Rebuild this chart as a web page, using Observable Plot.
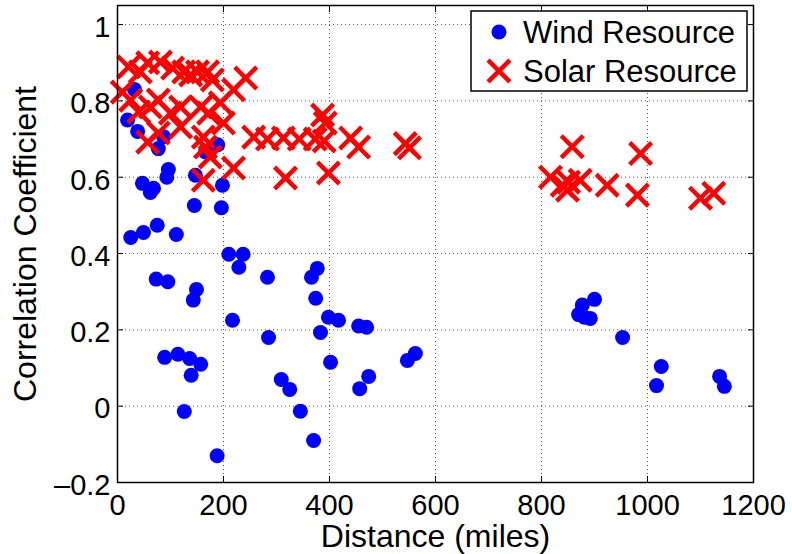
<!DOCTYPE html>
<html>
<head>
<meta charset="utf-8">
<script src="https://cdn.jsdelivr.net/npm/d3@7"></script>
<script src="https://cdn.jsdelivr.net/npm/@observablehq/plot@0.6"></script>
<style>
  body { margin: 0; background: #fff; }
  #chart svg { display: block; }
</style>
</head>
<body>
<div id="chart"></div>
<script>
// Correlation of resource output against distance between sites
const windDistance = [19, 38, 32, 77, 87, 96, 93, 47, 62, 68,
  147, 198, 166, 189, 145, 196, 25, 49, 75, 111,
  210, 237, 229, 283, 73, 95, 149, 143, 217, 285,
  89, 114, 136, 157, 139, 126, 188, 309, 325, 345,
  377, 366, 374, 398, 417, 455, 470, 383, 402, 562,
  547, 474, 457, 370, 900, 877, 870, 892, 881, 953,
  1026, 1017, 1136, 1145];
const windCorrelation = [0.75, 0.72, 0.83, 0.675, 0.706, 0.62, 0.60, 0.584, 0.56, 0.571,
  0.605, 0.579, 0.666, 0.685, 0.526, 0.52, 0.442, 0.455, 0.474, 0.45,
  0.398, 0.398, 0.364, 0.338, 0.333, 0.326, 0.306, 0.278, 0.225, 0.18,
  0.128, 0.136, 0.125, 0.11, 0.081, -0.014, -0.13, 0.07, 0.044, -0.013,
  0.361, 0.338, 0.283, 0.233, 0.225, 0.21, 0.207, 0.193, 0.115, 0.138,
  0.12, 0.078, 0.046, -0.09, 0.28, 0.265, 0.24, 0.23, 0.233, 0.18,
  0.104, 0.054, 0.078, 0.052];

const solarDistance = [21, 43, 57, 81, 104, 125, 138, 151, 170, 179, 242,
  9, 25, 40, 62, 77, 100, 119, 157, 172, 194, 219,
  57, 77, 119, 162, 166, 175, 200, 257, 283, 313, 343,
  162, 219, 317,
  387, 392, 373, 390, 440, 455, 543, 551, 398,
  858, 987, 817, 839, 851, 873, 849, 924, 981, 1100, 1125];
const solarCorrelation = [0.889, 0.876, 0.9, 0.902, 0.886, 0.876, 0.868, 0.876, 0.876, 0.855, 0.86,
  0.823, 0.802, 0.771, 0.784, 0.802, 0.768, 0.784, 0.784, 0.768, 0.795, 0.829,
  0.692, 0.716, 0.732, 0.705, 0.679, 0.653, 0.742, 0.705, 0.7, 0.703, 0.7,
  0.592, 0.624, 0.598,
  0.763, 0.742, 0.7, 0.695, 0.703, 0.679, 0.688, 0.677, 0.611,
  0.68, 0.662, 0.6, 0.579, 0.587, 0.592, 0.566, 0.579, 0.553, 0.545, 0.558];

const seriesNames = ["Wind Resource", "Solar Resource"];
const seriesColors = ["#0000ff", "#ff0000"];
const xTicks = [0, 200, 400, 600, 800, 1000, 1200];
const yTicks = [-0.2, 0, 0.2, 0.4, 0.6, 0.8, 1];
const xLabel = "Distance (miles)";
const yLabel = "Correlation Coefficient";

const wind = windDistance.map((d, i) => ({distance: d, corr: windCorrelation[i]}));
const solar = solarDistance.map((d, i) => ({distance: d, corr: solarCorrelation[i]}));

const font = "'Liberation Sans', Arial, Helvetica, sans-serif";
const xFormat = d => String(d);
const yFormat = d => (d < 0 ? "\u2013" : "") + Math.abs(d);
const gridStyle = {stroke: "#555", strokeOpacity: 1, strokeWidth: 1, strokeDasharray: "1,3"};

const chart = Plot.plot({
  width: 792,
  height: 554,
  marginLeft: 117,
  marginRight: 39,
  marginTop: 5,
  marginBottom: 72,
  style: {fontFamily: font, background: "#fff", color: "#000"},
  x: {domain: [0, 1200]},
  y: {domain: [-0.2, 1.05]},
  marks: [
    Plot.gridX(xTicks.slice(1, -1), gridStyle),
    Plot.gridY(yTicks.slice(1), gridStyle),
    Plot.dot(wind, {x: "distance", y: "corr", r: 7.5, fill: seriesColors[0], stroke: "none"}),
    Plot.dot(solar, {x: "distance", y: "corr", r: 10, symbol: "times", stroke: seriesColors[1], strokeWidth: 4.5}),
    Plot.frame({stroke: "#000", strokeWidth: 1.5}),
    // inward ticks on all four sides
    Plot.axisX(xTicks, {anchor: "bottom", tickSize: -6, fill: "none", label: null, stroke: "#000"}),
    Plot.axisX(xTicks, {anchor: "top", tickSize: -6, fill: "none", label: null, stroke: "#000"}),
    Plot.axisY(yTicks, {anchor: "left", tickSize: -6, fill: "none", label: null, stroke: "#000"}),
    Plot.axisY(yTicks, {anchor: "right", tickSize: -6, fill: "none", label: null, stroke: "#000"}),
    // tick labels
    Plot.axisX(xTicks, {anchor: "bottom", tickSize: 0, tickPadding: 12, fontSize: 29, label: null, fill: "#000", tickFormat: xFormat}),
    Plot.axisY(yTicks, {anchor: "left", tickSize: 0, tickPadding: 7, fontSize: 29, label: null, fill: "#000", tickFormat: yFormat, dy: 3}),
    // axis titles
    Plot.text([xLabel], {text: d => d, frameAnchor: "bottom", dy: 54, fontSize: 32, lineAnchor: "middle", textAnchor: "middle", fill: "#000"}),
    Plot.text([yLabel], {text: d => d, frameAnchor: "left", dx: -92, rotate: -90, fontSize: 32, lineAnchor: "middle", textAnchor: "middle", fill: "#000"})
  ]
});

// legend box in the upper-right corner of the axes
const svg = d3.select(chart);
const legend = svg.append("g")
  .attr("font-family", font)
  .attr("font-size", 31)
  .attr("text-anchor", "start")
  .attr("transform", "translate(471,11)");
legend.append("rect")
  .attr("width", 276).attr("height", 80)
  .attr("fill", "#fff").attr("stroke", "#000").attr("stroke-width", 1.5);
legend.append("circle")
  .attr("cx", 28).attr("cy", 21).attr("r", 7.5)
  .attr("fill", seriesColors[0]);
legend.append("path")
  .attr("transform", "translate(28,60)")
  .attr("d", d3.symbol(d3.symbolTimes, Math.PI * 100)())
  .attr("fill", "none").attr("stroke", seriesColors[1]).attr("stroke-width", 4.5);
legend.selectAll("text.entry")
  .data(seriesNames)
  .join("text")
  .attr("class", "entry")
  .attr("x", 52)
  .attr("y", (d, i) => 21 + i * 39)
  .attr("dy", "0.35em")
  .attr("text-anchor", "start")
  .attr("fill", "#000")
  .text(d => d);

document.getElementById("chart").appendChild(chart);
</script>
</body>
</html>
